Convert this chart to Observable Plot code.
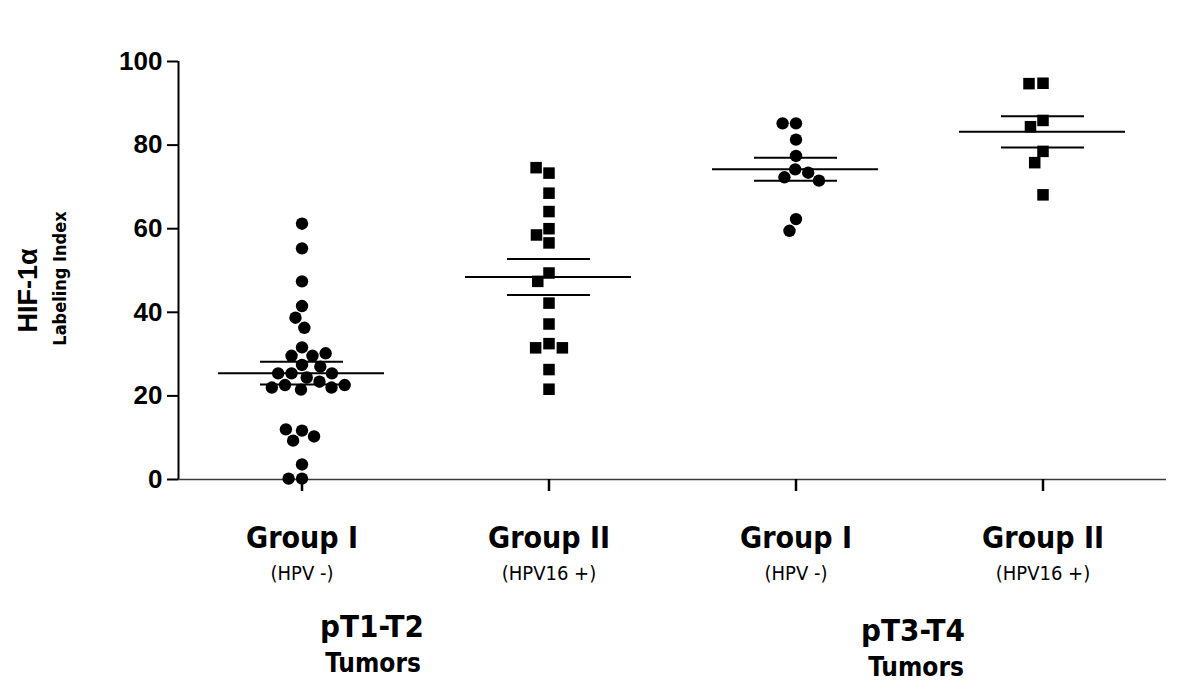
<!DOCTYPE html>
<html><head><meta charset="utf-8">
<script src="https://cdn.jsdelivr.net/npm/d3@7"></script>
<script src="https://cdn.jsdelivr.net/npm/@observablehq/plot@0.6"></script>
<style>body{margin:0;background:#fff}</style>
</head><body><div id="chart"></div>
<script>
// ---- data ----
const stages = ["pT1-T2", "pT1-T2", "pT3-T4", "pT3-T4"];
const groupNames = ["Group I", "Group II", "Group I", "Group II"];
const hpvLabels = ["(HPV -)", "(HPV16 +)", "(HPV -)", "(HPV16 +)"];
const groupShapes = ["circle", "square", "circle", "square"];
const stageLabels = ["pT1-T2", "pT3-T4"];
const stageSubLabels = ["Tumors", "Tumors"];
const yTicks = [0, 20, 40, 60, 80, 100];
const yTitle = "HIF-1α";
const ySubTitle = "Labeling Index";

const g1Values = [61.2, 55.3, 47.4, 41.5, 38.7, 36.3, 31.6, 29.6, 29.6, 30.2, 27.4, 27.0,
  25.4, 25.4, 25.4, 24.4, 23.4, 22.6, 22.0, 21.5, 22.0, 22.6, 11.7, 9.3, 10.3, 12.0, 3.6, 0.2, 0.2];
const g2Values = [73.3, 74.6, 68.5, 64.1, 60.0, 58.5, 56.6, 49.4, 47.4, 42.2, 37.2, 32.5,
  31.5, 31.5, 26.3, 21.6];
const g3Values = [85.2, 85.2, 81.3, 77.4, 74.2, 73.4, 72.3, 71.5, 62.3, 59.5];
const g4Values = [94.8, 94.7, 85.9, 84.4, 78.5, 75.8, 68.1];

// ---- derived tables ----
const valueSets = [g1Values, g2Values, g3Values, g4Values];
const keys = groupNames.map((g, i) => `${stages[i]} ${g}`);
const points = valueSets.flatMap((vals, i) =>
  vals.map(v => ({key: keys[i], shape: groupShapes[i], value: v})));
const stats = valueSets.map((vals, i) => {
  const m = d3.mean(vals);
  const sem = d3.deviation(vals) / Math.sqrt(vals.length);
  return {key: keys[i], mean: m, lo: m - sem, hi: m + sem};
});
const labelRows = keys.map((k, i) => ({key: k, name: groupNames[i], hpv: hpvLabels[i]}));

const narrow = "'Liberation Sans Narrow', 'Arial Narrow', 'DejaVu Sans Condensed', 'Liberation Sans', Arial, sans-serif";

const chart = Plot.plot({
  width: 1200,
  height: 698,
  marginLeft: 178,
  marginRight: 34,
  marginTop: 61,
  marginBottom: 219,
  style: {fontFamily: "'Liberation Sans', Arial, sans-serif", background: "#fff", color: "#000"},
  fx: {domain: keys, padding: 0, axis: null},
  x: {domain: [-1, 1], axis: null},
  y: {domain: [0, 100], axis: null},
  marks: [
    Plot.ruleY([0], {stroke: "#3a3a3a", strokeWidth: 1.5}),
    Plot.ruleX([keys[0]], {fx: d => d, x: () => -1, stroke: "#000", strokeWidth: 2}),
    Plot.axisY({ticks: yTicks, tickSize: 11, tickPadding: 5, strokeWidth: 2,
      fontSize: 26, fontWeight: "bold", label: null}),
    Plot.axisFx({anchor: "bottom", tickSize: 12, strokeWidth: 2.5, tickFormat: () => "", label: null}),
    Plot.dot(points.filter(d => d.shape === "circle"),
      Plot.dodgeX("middle", {fx: "key", y: "value", r: 6.2, padding: 0, symbol: "circle", fill: "#000"})),
    Plot.dot(points.filter(d => d.shape === "square"),
      Plot.dodgeX("middle", {fx: "key", y: "value", r: 6.5, padding: 0, symbol: "square", fill: "#000"})),
    Plot.tickY(stats, {fx: "key", y: "mean", insetLeft: 40, insetRight: 41, strokeWidth: 2}),
    Plot.tickY(stats, {fx: "key", y: "lo", insetLeft: 82, insetRight: 82, strokeWidth: 2}),
    Plot.tickY(stats, {fx: "key", y: "hi", insetLeft: 82, insetRight: 82, strokeWidth: 2}),
    Plot.ruleX(stats, {fx: "key", y1: "lo", y2: "hi", strokeWidth: 2}),
    // category labels
    Plot.text(labelRows, {fx: "key", text: "name", frameAnchor: "bottom", dy: 68,
      fontSize: 30, fontWeight: "bold", fontFamily: narrow}),
    Plot.text(labelRows, {fx: "key", text: "hpv", frameAnchor: "bottom", dy: 100,
      fontSize: 20, fontFamily: narrow}),
    // stage labels
    Plot.text([keys[0]], {fx: d => d, text: () => stageLabels[0], frameAnchor: "bottom", dx: 70, dy: 157,
      fontSize: 31, fontWeight: "bold", fontFamily: narrow}),
    Plot.text([keys[0]], {fx: d => d, text: () => stageSubLabels[0], frameAnchor: "bottom", dx: 71, dy: 192,
      fontSize: 26, fontWeight: "bold", fontFamily: narrow}),
    Plot.text([keys[2]], {fx: d => d, text: () => stageLabels[1], frameAnchor: "bottom", dx: 117, dy: 161,
      fontSize: 31, fontWeight: "bold", fontFamily: narrow}),
    Plot.text([keys[2]], {fx: d => d, text: () => stageSubLabels[1], frameAnchor: "bottom", dx: 120, dy: 196,
      fontSize: 26, fontWeight: "bold", fontFamily: narrow}),
    // y title
    Plot.text([keys[0]], {fx: d => d, text: () => yTitle, frameAnchor: "left", textAnchor: "middle",
      dx: -150, dy: 20, rotate: -90, fontSize: 27, fontWeight: "bold"}),
    Plot.text([keys[0]], {fx: d => d, text: () => ySubTitle, frameAnchor: "left", textAnchor: "middle",
      dx: -118, dy: 8, rotate: -90, fontSize: 18, fontWeight: "bold", fontFamily: narrow})
  ]
});
document.getElementById("chart").appendChild(chart);
</script>
</body></html>
